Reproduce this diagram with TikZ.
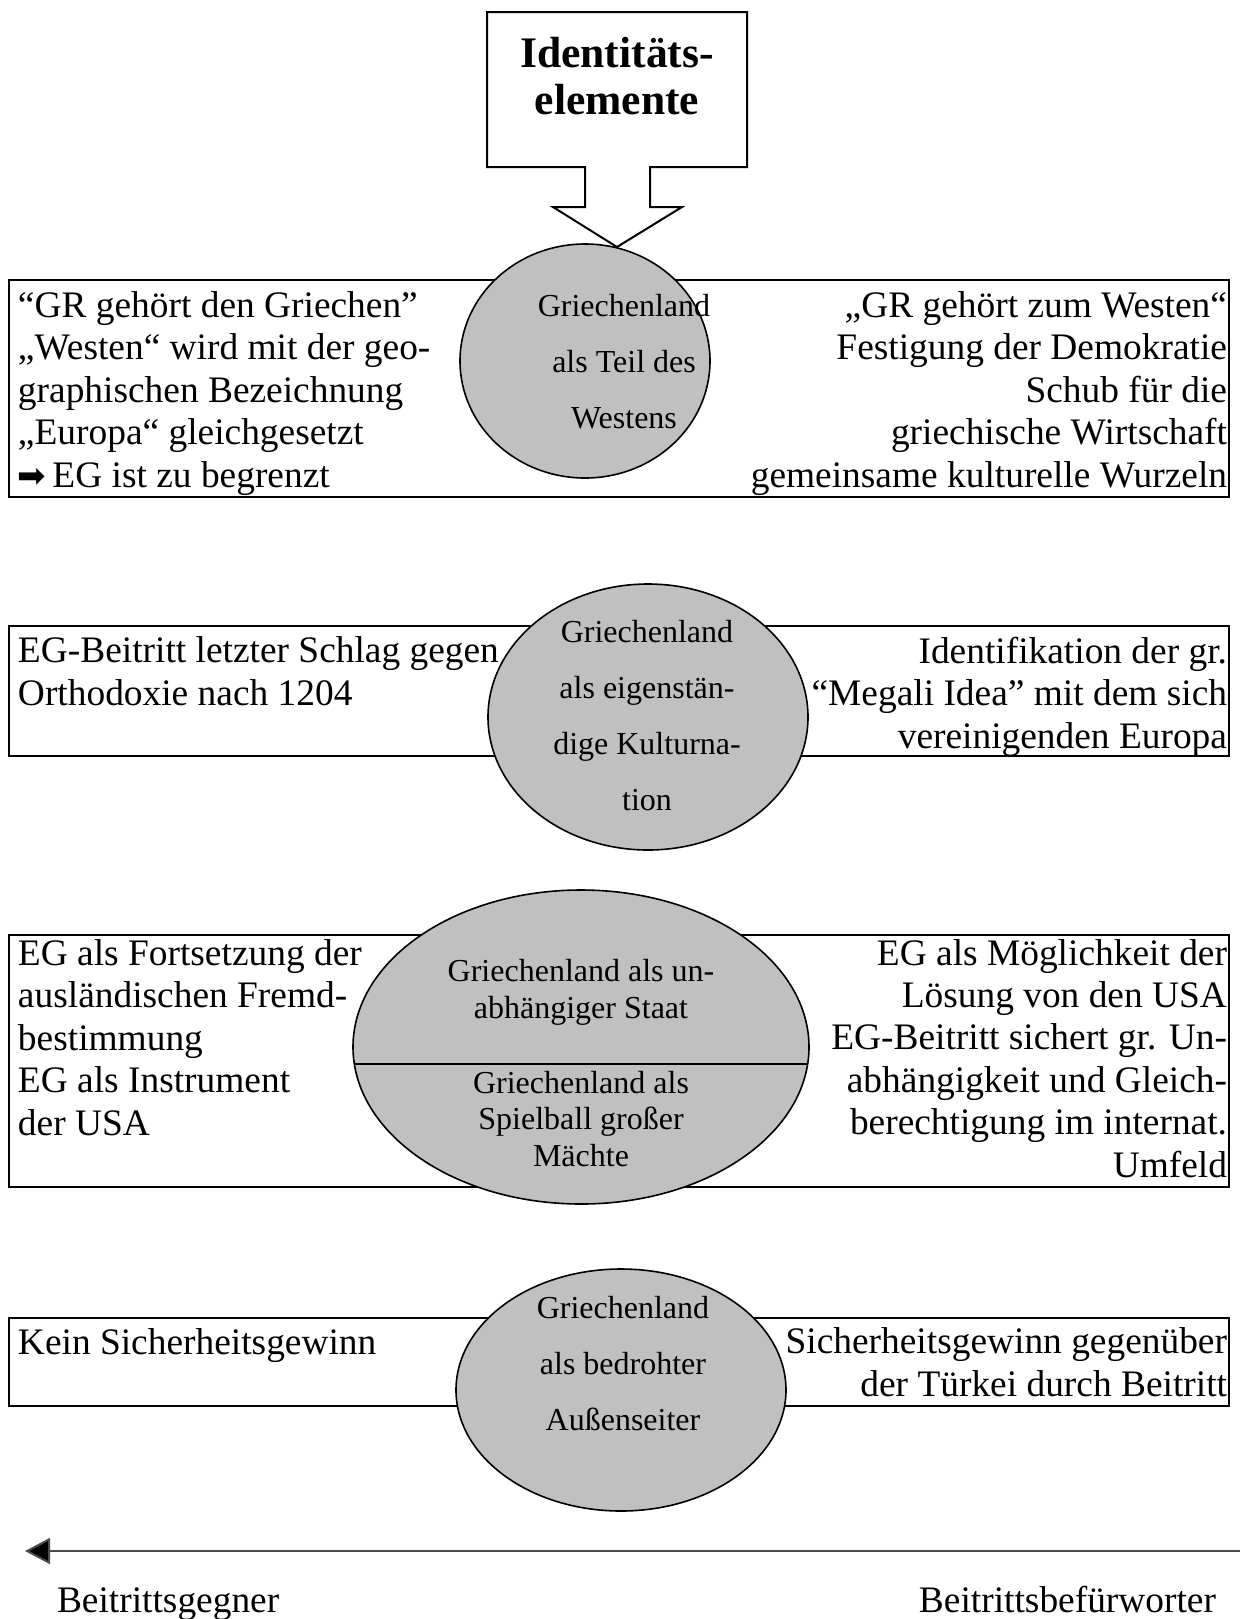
\documentclass[tikz,border=0pt]{standalone}
\usepackage{fontspec}
\setmainfont{Liberation Serif}
\newfontfamily\symfont{DejaVu Sans}
\usetikzlibrary{positioning, arrows.meta, calc}
\definecolor{ellgray}{RGB}{192,192,192}
\tikzset{
  identity/.style={
	x=0.5pt, y=-0.5pt, % one unit is one pixel of the page, y runs downwards
	every node/.style={inner sep=0pt, outer sep=0pt},
	rowbox/.style={draw, line width=1.3pt, fill=white}, % the frame behind each row
	blob/.style={draw, line width=0.8pt, fill=ellgray}, % the grey identity ellipses
	boxtext/.style={font=\fontsize{18.7}{21.2}\selectfont},
	lefttext/.style={boxtext, anchor=base west, align=left}, % base = last line
	righttext/.style={boxtext, anchor=base east, align=right},
	blobtext/.style={font=\fontsize{16}{27.9}\selectfont, align=center, anchor=base},
	blobtight/.style={font=\fontsize{16}{18.2}\selectfont, align=center, anchor=base},
  }
}
\begin{document}
\begin{tikzpicture}[identity]
	  \useasboundingbox (0,0) rectangle (1240,1619);

	  % frames of the four rows
	  \draw[rowbox] (9,280) rectangle (1229,497);
	  \draw[rowbox] (9,626) rectangle (1229,756);
	  \draw[rowbox] (9,935) rectangle (1229,1187);
	  \draw[rowbox] (9,1318) rectangle (1229,1406);

	  % identity ellipses
	  \draw[blob] (585,361) ellipse [x radius=125, y radius=117];
	  \draw[blob] (648,717) ellipse [x radius=160, y radius=133];
	  \draw[blob] (581,1047) ellipse [x radius=228, y radius=157];
	  \draw[line width=0.8pt] (354,1064) -- (808,1064);
	  \draw[blob] (621,1390) ellipse [x radius=165, y radius=121];

	  % callout on top
	  \draw[line width=1pt, fill=white] (487,12) -- (747,12) -- (747,167) -- (650,167) -- (650,207) -- (682,207)
		  -- (617,247) -- (553,207) -- (585,207) -- (585,167) -- (487,167) -- cycle;
	  \node[font=\bfseries\fontsize{21.8}{23.4}\selectfont, align=center, anchor=base] (title) at (617,114) {Identitäts-\\elemente};

	  % row 1
	  \node[lefttext] (west l) at (18,487) {“GR gehört den Griechen”\\„Westen“ wird mit der geo-\\graphischen Bezeichnung\\„Europa“ gleichgesetzt\\{\symfont\fontsize{17}{17}\selectfont ➡}\hspace{3pt}EG ist zu begrenzt};
	  \node[blobtext] (west) at (624,428) {Griechenland\\als Teil des\\Westens};
	  \node[righttext] (west r) at (1227,487) {„GR gehört zum Westen“\\Festigung der Demokratie\\Schub für die\\griechische Wirtschaft\\gemeinsame kulturelle Wurzeln};

	  % row 2
	  \node[lefttext] (kultur l) at (18,705) {EG-Beitritt letzter Schlag gegen\\Orthodoxie nach 1204};
	  \node[blobtext] (kultur) at (647,810) {Griechenland\\als eigenstän-\\dige Kulturna-\\tion};
	  \node[righttext] (kultur r) at (1227,748) {Identifikation der gr.\\“Megali Idea” mit dem sich\\vereinigenden Europa};

	  % row 3
	  \node[lefttext] (staat l) at (18,1135) {EG als Fortsetzung der\\ausländischen Fremd-\\bestimmung\\EG als Instrument\\der USA};
	  \node[blobtight] (staat) at (581,1018) {Griechenland als un-\\abhängiger Staat};
	  \node[blobtight] (spielball) at (581,1166) {Griechenland als\\Spielball großer\\Mächte};
	  \node[righttext] (staat r) at (1227,1177) {EG als Möglichkeit der\\Lösung von den USA\\EG-Beitritt sichert gr. Un-\\abhängigkeit und Gleich-\\berechtigung im internat.\\Umfeld};

	  % row 4
	  \node[lefttext] (aussen l) at (18,1354) {Kein Sicherheitsgewinn};
	  \node[blobtext] (aussen) at (623,1430) {Griechenland\\als bedrohter\\Außenseiter};
	  \node[righttext] (aussen r) at (1227,1396) {Sicherheitsgewinn gegenüber\\der Türkei durch Beitritt};

	  % axis at the bottom
	  \coordinate (axis r) at (1240,1551);
	  \coordinate (axis l) at (25,1551);
	  \draw[line width=1pt, draw=black!70, -{Triangle[length=12.5pt, width=13pt, fill=black]}] (axis r) -- (axis l);
	  \node[lefttext] (gegner) at (57,1612) {Beitrittsgegner};
	  \node[righttext] (befuer) at (1216,1612) {Beitrittsbefürworter};
\end{tikzpicture}
\end{document}
